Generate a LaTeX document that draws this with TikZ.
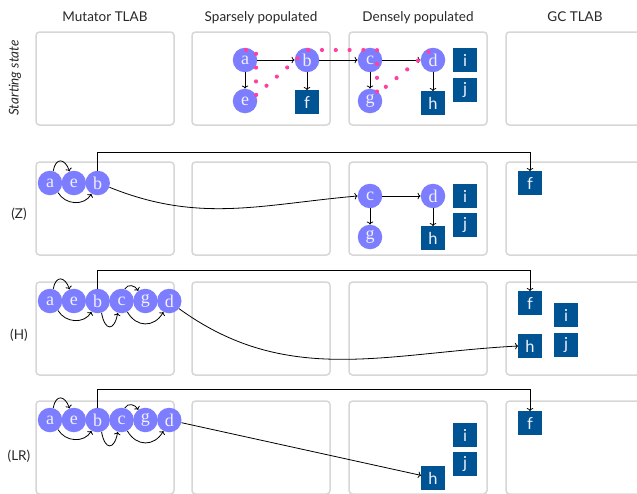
\documentclass[tikz,border=0pt]{standalone}
\usepackage{fontspec}
\setsansfont{Lato}
\newfontfamily\objfont{Liberation Serif}
\usetikzlibrary{arrows.meta}
\definecolor{objfill}{RGB}{125,125,255}
\definecolor{blkfill}{RGB}{0,84,147}
\definecolor{trail}{RGB}{255,64,160}
\definecolor{panelline}{RGB}{215,215,215}
\definecolor{labeltext}{RGB}{40,40,40}
\definecolor{objtext}{RGB}{240,240,255}
\tikzset{
  panel/.style={draw=panelline, line width=1.5pt, rounded corners=3.5pt},
  obj/.style={circle, fill=objfill, text=objtext, minimum size=24.5pt, inner sep=0pt,
    font=\objfont\fontsize{18}{18}\selectfont},
  blk/.style={rectangle, fill=blkfill, text=objtext, minimum size=23.5pt, inner sep=0pt,
    font=\sffamily\fontsize{16.5}{16.5}\selectfont},
  conn/.style={-{To[length=3pt,width=6.5pt]}, line width=0.8pt},
  head/.style={anchor=base, text=labeltext, font=\sffamily\fontsize{13.5}{16}\selectfont},
  rowlab/.style={anchor=base, text=labeltext, font=\sffamily\fontsize{13.5}{16}\selectfont},
  trailpath/.style={draw=trail, line width=4.2pt, line cap=round, dash pattern=on 0pt off 13.8pt},
}
\begin{document}
\begin{tikzpicture}[x=1pt,y=-1pt]
\clip (0,0) rectangle (637,493);
\fill[white] (0,0) rectangle (637,493);

% column headings
\node[head] (h1) at (105,21.5) {Mutator TLAB};
\node[head] (h2) at (261,21.5) {Sparsely populated};
\node[head] (h3) at (418,21.5) {Densely populated};
\node[head] (h4) at (575,21.5) {GC TLAB};

% row labels
\node[rotate=90, text=labeltext, font=\sffamily\itshape\fontsize{13.5}{16}\selectfont] (r1) at (15,78) {Starting state};
\node[rowlab] (r2) at (19,218) {(Z)};
\node[rowlab] (r3) at (19,339) {(H)};
\node[rowlab] (r4) at (19,460) {(LR)};

% panels: four columns, four rows
\foreach \y in {32,162,282,401}{
  \foreach \x in {36,192,349,506}{
    \draw[panel] (\x,\y) rectangle ++(138,93);
  }
}

% ---------- starting state ----------
\node[obj] (sa) at (245,60) {a};
\node[obj] (sb) at (307,60) {b};
\node[obj] (se) at (245,101) {e};
\node[blk] (sf) at (307,102) {f};
\node[obj] (sc) at (370,60) {c};
\node[obj] (sd) at (433,60) {d};
\node[obj] (sg) at (370,101) {g};
\node[blk] (sh) at (433,103) {h};
\node[blk] (si) at (465,60) {i};
\node[blk] (sj) at (465,90) {j};
\draw[conn] (sa) -- (sb);
\draw[conn] (sb) -- (sc);
\draw[conn] (sc) -- (sd);
\draw[conn] (sa) -- (se);
\draw[conn] (sb) -- (sf);
\draw[conn] (sc) -- (sg);
\draw[conn] (sd) -- (sh);
% copy order
\draw[trailpath] (246,50) -- (256,50) -- (256,95) -- (307,50) -- (377,50) -- (377,94) -- (431,50);

% ---------- (Z) ----------
\node[obj] (za) at (50,183) {a};
\node[obj] (ze) at (73.85,183) {e};
\node[obj] (zb) at (97.7,183) {b};
\node[blk] (zf) at (530,183) {f};
\node[obj] (zc) at (370,196) {c};
\node[obj] (zd) at (433,196) {d};
\node[obj] (zg) at (370,237) {g};
\node[blk] (zh) at (433,238) {h};
\node[blk] (zi) at (465,196) {i};
\node[blk] (zj) at (465,225) {j};
\draw[conn] (za.75) to[out=80, in=110, looseness=2.2] (ze.110);
\draw[conn] (za.-50) to[out=-60, in=-120, looseness=1.1] (zb.-120);
\coordinate (ztop) at (0,152);
\draw[conn] (zb.north) -- (zb.north |- ztop) -| (zf.north);
\draw[conn] (zb.-20) to[out=-22, in=185] (zc.west);
\draw[conn] (zc) -- (zd);
\draw[conn] (zc) -- (zg);
\draw[conn] (zd) -- (zh);

% ---------- (H) ----------
\node[obj] (ha) at (50,301) {a};
\node[obj] (he) at (73.85,301) {e};
\node[obj] (hb) at (97.7,301) {b};
\node[obj] (hc) at (121.55,301) {c};
\node[obj] (hg) at (145.4,301) {g};
\node[obj] (hd) at (169.25,301) {d};
\node[blk] (hf) at (530,303) {f};
\node[blk] (hh) at (530,346) {h};
\node[blk] (hi) at (566,315) {i};
\node[blk] (hj) at (566,345) {j};
\draw[conn] (ha.75) to[out=80, in=110, looseness=2.2] (he.110);
\draw[conn] (ha.-50) to[out=-60, in=-120, looseness=1.1] (hb.-120);
\draw[conn] (hb.-72) to[out=-80, in=-100, looseness=3] (hc.-108);
\draw[conn] (hc.75) to[out=60, in=120, looseness=1.2] (hg.125);
\draw[conn] (hc.-62) to[out=-60, in=-120, looseness=1.3] (hd.-118);
\coordinate (htop) at (0,270);
\draw[conn] (hb.north) -- (hb.north |- htop) -| (hf.north);
\draw[conn] (hd.-38) to[out=-36, in=183] (hh.west);

% ---------- (LR) ----------
\node[obj] (la) at (50,420) {a};
\node[obj] (le) at (73.85,420) {e};
\node[obj] (lb) at (97.7,420) {b};
\node[obj] (lc) at (121.55,420) {c};
\node[obj] (lg) at (145.4,420) {g};
\node[obj] (ld) at (169.25,420) {d};
\node[blk] (lf) at (530,423) {f};
\node[blk] (li) at (465,435) {i};
\node[blk] (lj) at (465,464) {j};
\node[blk] (lh) at (433,478) {h};
\draw[conn] (la.75) to[out=80, in=110, looseness=2.2] (le.110);
\draw[conn] (la.-50) to[out=-60, in=-120, looseness=1.1] (lb.-120);
\draw[conn] (lb.-72) to[out=-80, in=-100, looseness=3] (lc.-108);
\draw[conn] (lc.75) to[out=60, in=120, looseness=1.2] (lg.125);
\draw[conn] (lc.-62) to[out=-60, in=-120, looseness=1.3] (ld.-118);
\coordinate (ltop) at (0,389);
\draw[conn] (lb.north) -- (lb.north |- ltop) -| (lf.north);
\draw[conn] (ld) -- (lh);
\end{tikzpicture}
\end{document}
